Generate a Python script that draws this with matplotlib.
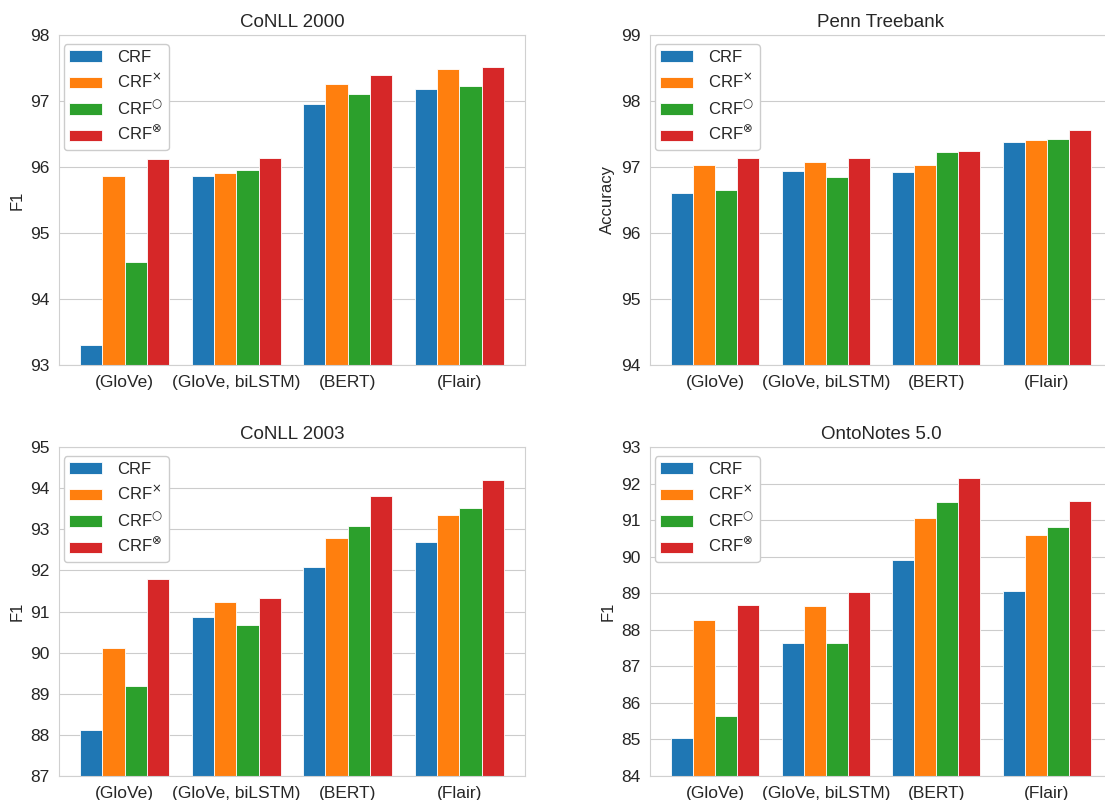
import matplotlib
matplotlib.use('Agg')
import matplotlib.pyplot as plt
import numpy as np
import seaborn as sns

sns.set_style('whitegrid')
plt.rcParams['font.family'] = ['Liberation Sans', 'DejaVu Sans']
plt.rcParams['mathtext.fontset'] = 'dejavusans'

groups = ['(GloVe)', '(GloVe, biLSTM)', '(BERT)', '(Flair)']
series = ['CRF', r'CRF$^{\times}$', r'CRF$^{\bigcirc}$', r'CRF$^{\otimes}$']
colors = ['#1f77b4', '#ff7f0e', '#2ca02c', '#d62728']

# rows: CRF, CRFx, CRFo, CRF(x) ; columns: groups
conll2000 = [
	[93.30, 95.87, 96.96, 97.18],
	[95.87, 95.91, 97.26, 97.49],
	[94.56, 95.96, 97.11, 97.23],
	[96.12, 96.13, 97.39, 97.52],
]
ptb = [
	[96.60, 96.94, 96.92, 97.38],
	[97.03, 97.07, 97.03, 97.41],
	[96.65, 96.85, 97.22, 97.43],
	[97.14, 97.14, 97.24, 97.56],
]
conll2003 = [
	[88.13, 90.87, 92.09, 92.69],
	[90.12, 91.22, 92.78, 93.35],
	[89.19, 90.66, 93.09, 93.52],
	[91.80, 91.33, 93.81, 94.20],
]
ontonotes = [
	[85.04, 87.65, 89.91, 89.07],
	[88.26, 88.65, 91.05, 90.59],
	[85.65, 87.65, 91.49, 90.82],
	[88.67, 89.03, 92.15, 91.52],
]

panels = [
	('CoNLL 2000', conll2000, 'F1', (93, 98), [59, 35, 466, 330]),
	('Penn Treebank', ptb, 'Accuracy', (94, 99), [650, 35, 462, 330]),
	('CoNLL 2003', conll2003, 'F1', (87, 95), [59, 447, 466, 329]),
	('OntoNotes 5.0', ontonotes, 'F1', (84, 93), [650, 447, 462, 329]),
]

W, H = 1105, 800
fig = plt.figure(figsize=(W / 100, H / 100), dpi=100)

for title, data, ylab, ylim, box in panels:
	x0, y0, w, h = box
	ax = fig.add_axes([x0 / W, (H - y0 - h) / H, w / W, h / H])
	x = np.arange(len(groups))
	bw = 0.2
	for k, (name, vals) in enumerate(zip(series, data)):
		ax.bar(x + (k - 1.5) * bw, vals, bw, color=colors[k], label=name,
			   edgecolor='white', linewidth=0.6, zorder=2)
	ax.set_ylim(*ylim)
	ax.set_xlim(-0.59, 3.59)
	ax.set_xticks(x)
	ax.set_xticklabels(groups, fontsize=12.5)
	ax.tick_params(axis='y', labelsize=12.5)
	ax.xaxis.grid(False)
	ax.set_title(title, fontsize=13.5)
	ax.set_ylabel(ylab, fontsize=12)
	for s in ax.spines.values():
		s.set_color('#d0d0d0')
	ax.legend(loc='upper left', fontsize=12, handlelength=1.95,
			  handletextpad=0.9, labelspacing=0.45, borderpad=0.35,
			  bbox_to_anchor=(-0.008, 0.997), framealpha=1)

fig.savefig('out.png', dpi=100)
